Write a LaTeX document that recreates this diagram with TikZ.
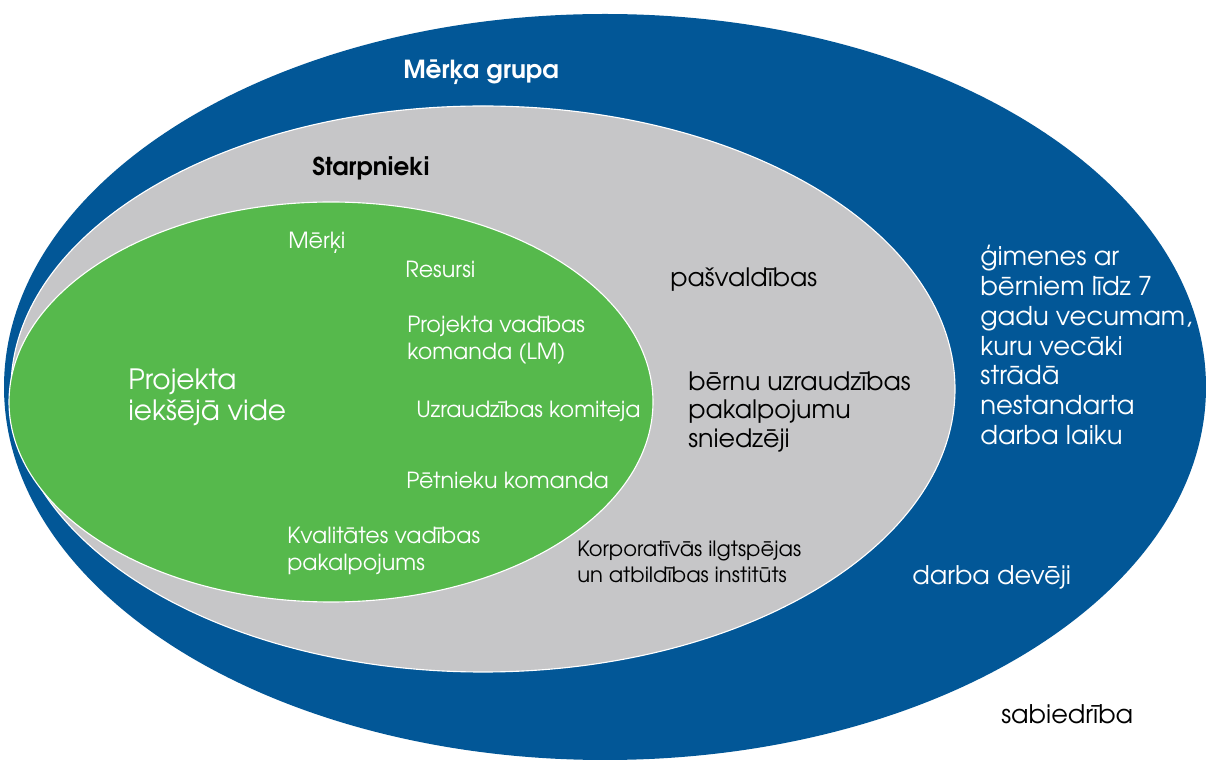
\documentclass[tikz,border=0pt]{standalone}
\usepackage{fontspec}
\setmainfont{TeX Gyre Adventor}
\usepackage{tikz}

\definecolor{targetblue}{RGB}{2,87,151}
\definecolor{middlegray}{RGB}{198,198,200}
\definecolor{innergreen}{RGB}{86,185,76}

\tikzset{
	lbl/.style={anchor=west, align=left, inner sep=0pt},
	wlbl/.style={lbl, text=white},
	blbl/.style={lbl, text=black}
}

\begin{document}
\begin{tikzpicture}[x=0.025cm,y=-0.025cm]
	\useasboundingbox (0,0) rectangle (1206,760);
	
	%ELLIPSES
	\fill[targetblue] (605,387) ellipse [x radius=601, y radius=373];
	\filldraw[middlegray, draw=white, thick] (483,389) ellipse [x radius=472, y radius=283];
	\filldraw[innergreen, draw=white, thick] (331,402) ellipse [x radius=322, y radius=200];
	
	%TITLES
	\node[wlbl, font=\bfseries\fontsize{17.7}{20}\selectfont] (merka) at (403,72) {Mērķa grupa};
	\node[blbl, font=\bfseries\fontsize{17.5}{19}\selectfont] (starp) at (312,168) {Starpnieki};
	
	%INNER
	\node[wlbl, font=\fontsize{19.9}{22}\selectfont] (vide) at (128,397) {Projekta\\iekšējā vide};
	\node[wlbl, font=\fontsize{15.8}{19}\selectfont] (merki) at (288,243) {Mērķi};
	\node[wlbl, font=\fontsize{15.8}{19}\selectfont] (resursi) at (405,269) {Resursi};
	\node[wlbl, font=\fontsize{15.8}{19}\selectfont] (vadiba) at (407,340) {Projekta vadības\\komanda (LM)};
	\node[wlbl, font=\fontsize{15.8}{19}\selectfont] (komiteja) at (416,411) {Uzraudzības komiteja};
	\node[wlbl, font=\fontsize{15.8}{19}\selectfont] (petnieki) at (406,480) {Pētnieku komanda};
	\node[wlbl, font=\fontsize{15.8}{19}\selectfont] (kvalitate) at (287,551) {Kvalitātes vadības\\pakalpojums};
	
	%MIDDLE
	\node[blbl, font=\fontsize{18}{20.3}\selectfont] (pasv) at (670,280) {pašvaldības};
	\node[blbl, font=\fontsize{18}{20.3}\selectfont] (bernu) at (688,412) {bērnu uzraudzības\\pakalpojumu\\sniedzēji};
	\node[blbl, font=\fontsize{15}{18.5}\selectfont] (korpor) at (577,562) {Korporatīvās ilgtspējas\\un atbildības institūts};
	
	%OUTER
	\node[wlbl, font=\fontsize{18.4}{21.2}\selectfont] (gimenes) at (980,345) {ģimenes ar\\bērniem līdz 7\\gadu vecumam,\\kuru vecāki\\strādā\\nestandarta\\darba laiku};
	\node[wlbl, font=\fontsize{18.2}{21}\selectfont] (devej) at (912,578) {darba devēji};
	\node[blbl, font=\fontsize{18.2}{20}\selectfont] (sabiedr) at (1001,714) {sabiedrība};
\end{tikzpicture}
\end{document}
